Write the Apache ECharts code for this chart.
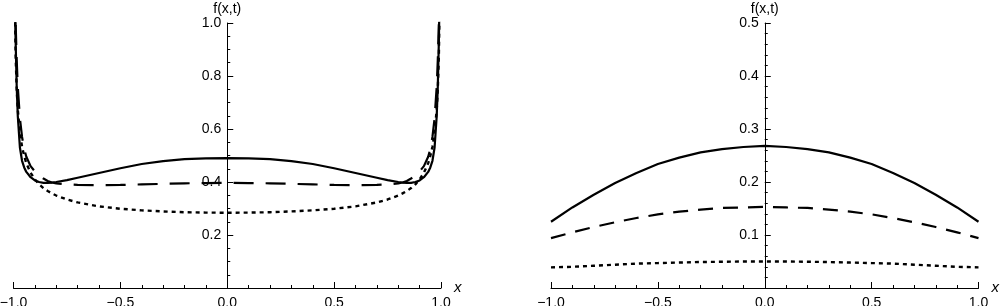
<!DOCTYPE html>
<html>
<head>
<meta charset="utf-8">
<script src="https://cdn.jsdelivr.net/npm/echarts@6/dist/echarts.min.js"></script>
<style>
  html, body { margin: 0; padding: 0; background: #fff; }
  #chart { width: 1000px; height: 306px; }
</style>
</head>
<body>
<div id="chart"></div>
<script>
// left panel: x grid and the three curves
var xLeft = [-0.999, -0.995, -0.99, -0.985, -0.98, -0.97, -0.96, -0.95, -0.94, -0.92, -0.9, -0.88, -0.86, -0.84, -0.82, -0.8, -0.75, -0.7, -0.6, -0.5, -0.4, -0.3, -0.2, -0.1,
  0, 0.1, 0.2, 0.3, 0.4, 0.5, 0.6, 0.7, 0.75, 0.8, 0.82, 0.84, 0.86, 0.88, 0.9, 0.92, 0.94, 0.95, 0.96, 0.97, 0.98, 0.985, 0.99, 0.995, 0.999];
var solidLeft = [2.0, 1.2, 0.93, 0.76, 0.65, 0.53, 0.48, 0.455, 0.438, 0.418, 0.406, 0.4, 0.397, 0.397, 0.398, 0.4, 0.407, 0.416, 0.434, 0.452, 0.468, 0.479, 0.486, 0.489,
  0.49, 0.489, 0.486, 0.479, 0.468, 0.452, 0.434, 0.416, 0.407, 0.4, 0.398, 0.397, 0.397, 0.4, 0.406, 0.418, 0.438, 0.455, 0.48, 0.53, 0.65, 0.76, 0.93, 1.2, 2.0];
var dashedLeft = [2.2, 1.3, 1.0, 0.86, 0.76, 0.64, 0.57, 0.525, 0.495, 0.46, 0.44, 0.425, 0.413, 0.404, 0.398, 0.395, 0.391, 0.389, 0.388, 0.389, 0.391, 0.393, 0.395, 0.396,
  0.397, 0.396, 0.395, 0.393, 0.391, 0.389, 0.388, 0.389, 0.391, 0.395, 0.398, 0.404, 0.413, 0.425, 0.44, 0.46, 0.495, 0.525, 0.57, 0.64, 0.76, 0.86, 1.0, 1.3, 2.2];
var dottedLeft = [2.36, 1.158, 0.875, 0.749, 0.674, 0.586, 0.533, 0.498, 0.471, 0.435, 0.41, 0.391, 0.377, 0.366, 0.357, 0.349, 0.334, 0.323, 0.308, 0.299, 0.293, 0.289, 0.286, 0.2845,
  0.284, 0.2845, 0.286, 0.289, 0.293, 0.299, 0.308, 0.323, 0.334, 0.349, 0.357, 0.366, 0.377, 0.391, 0.41, 0.435, 0.471, 0.498, 0.533, 0.586, 0.674, 0.749, 0.875, 1.158, 2.36];

// right panel
var xRight = [-1, -0.9, -0.8, -0.7, -0.6, -0.5, -0.4, -0.3, -0.2, -0.1, 0, 0.1, 0.2, 0.3, 0.4, 0.5, 0.6, 0.7, 0.8, 0.9, 1];
var solidRight = [0.125, 0.152, 0.176, 0.198, 0.217, 0.234, 0.246, 0.256, 0.262, 0.266, 0.268, 0.266, 0.262, 0.256, 0.246, 0.234, 0.217, 0.198, 0.176, 0.152, 0.125];
var dashedRight = [0.094, 0.105, 0.115, 0.124, 0.132, 0.139, 0.144, 0.148, 0.151, 0.152, 0.153, 0.152, 0.151, 0.148, 0.144, 0.139, 0.132, 0.124, 0.115, 0.105, 0.094];
var dottedRight = [0.039, 0.040, 0.042, 0.044, 0.046, 0.047, 0.048, 0.049, 0.0495, 0.05, 0.05, 0.05, 0.0495, 0.049, 0.048, 0.047, 0.046, 0.044, 0.042, 0.040, 0.039];

var xTicks = { min: -1, max: 1, interval: 0.5, minorSplit: 5 };
var yLeft = { min: 0, max: 1, interval: 0.2, minorSplit: 4 };
var yRight = { min: 0, max: 0.5, interval: 0.1, minorSplit: 5 };

var plotW = 427.5; // width of each plot area, y axis sits in the middle (x = 0)

function zip(xs, ys) {
  return xs.map(function (x, i) { return [x, ys[i]]; });
}

function fmt(v) {
  if (v < 0) return "\u2212" + Math.abs(v).toFixed(1);
  return v.toFixed(1);
}

var font = "Liberation Sans";

function makeX(idx) {
  return {
    type: "value",
    gridIndex: idx,
    min: xTicks.min,
    max: xTicks.max,
    interval: xTicks.interval,
    name: "x",
    nameLocation: "end",
    nameGap: 13,
    nameTextStyle: { color: "#000", fontSize: 15, fontStyle: "italic", fontFamily: font },
    axisLine: { onZero: true, lineStyle: { color: "#000", width: 1 } },
    axisTick: { inside: true, length: 6, lineStyle: { color: "#000" } },
    minorTick: { show: true, splitNumber: xTicks.minorSplit, length: 3, lineStyle: { color: "#000" } },
    axisLabel: { color: "#000", fontSize: 14, fontFamily: font, margin: 8, formatter: fmt },
    splitLine: { show: false }
  };
}

function makeY(idx, cfg) {
  return {
    type: "value",
    gridIndex: idx,
    position: "left",
    offset: -plotW / 2,
    min: cfg.min,
    max: cfg.max,
    interval: cfg.interval,
    name: "f(x,t)",
    nameLocation: "end",
    nameGap: 4,
    nameTextStyle: { color: "#000", fontSize: 14, fontFamily: font },
    axisLine: { show: true, onZero: false, lineStyle: { color: "#000", width: 1 } },
    axisTick: { show: true, inside: true, length: 6, lineStyle: { color: "#000" } },
    minorTick: { show: true, splitNumber: cfg.minorSplit, length: 3, lineStyle: { color: "#000" } },
    axisLabel: { color: "#000", fontSize: 14, fontFamily: font, margin: 6, showMinLabel: false, formatter: fmt },
    splitLine: { show: false }
  };
}

function line(idx, xs, ys, type, width) {
  return {
    type: "line",
    xAxisIndex: idx,
    yAxisIndex: idx,
    data: zip(xs, ys),
    symbol: "none",
    clip: true,
    silent: true,
    lineStyle: { color: "#000", width: width, type: type }
  };
}

var myChart = echarts.init(document.getElementById("chart"), null, { renderer: "canvas" });
var option = {
  animation: false,
  backgroundColor: "#fff",
  grid: [
    { left: 13.5, right: 559, top: 23, bottom: 18, outerBoundsMode: "none" },
    { left: 551, right: 21.5, top: 23, bottom: 18, outerBoundsMode: "none" }
  ],
  xAxis: [makeX(0), makeX(1)],
  yAxis: [makeY(0, yLeft), makeY(1, yRight)],
  series: [
    line(0, xLeft, solidLeft, "solid", 2.2),
    line(0, xLeft, dashedLeft, [20, 12], 2.2),
    line(0, xLeft, dottedLeft, [4, 4], 2.4),
    line(1, xRight, solidRight, "solid", 2.2),
    line(1, xRight, dashedRight, [15, 10], 2.2),
    line(1, xRight, dottedRight, [4, 4], 2.4)
  ]
};
myChart.setOption(option);
</script>
</body>
</html>
